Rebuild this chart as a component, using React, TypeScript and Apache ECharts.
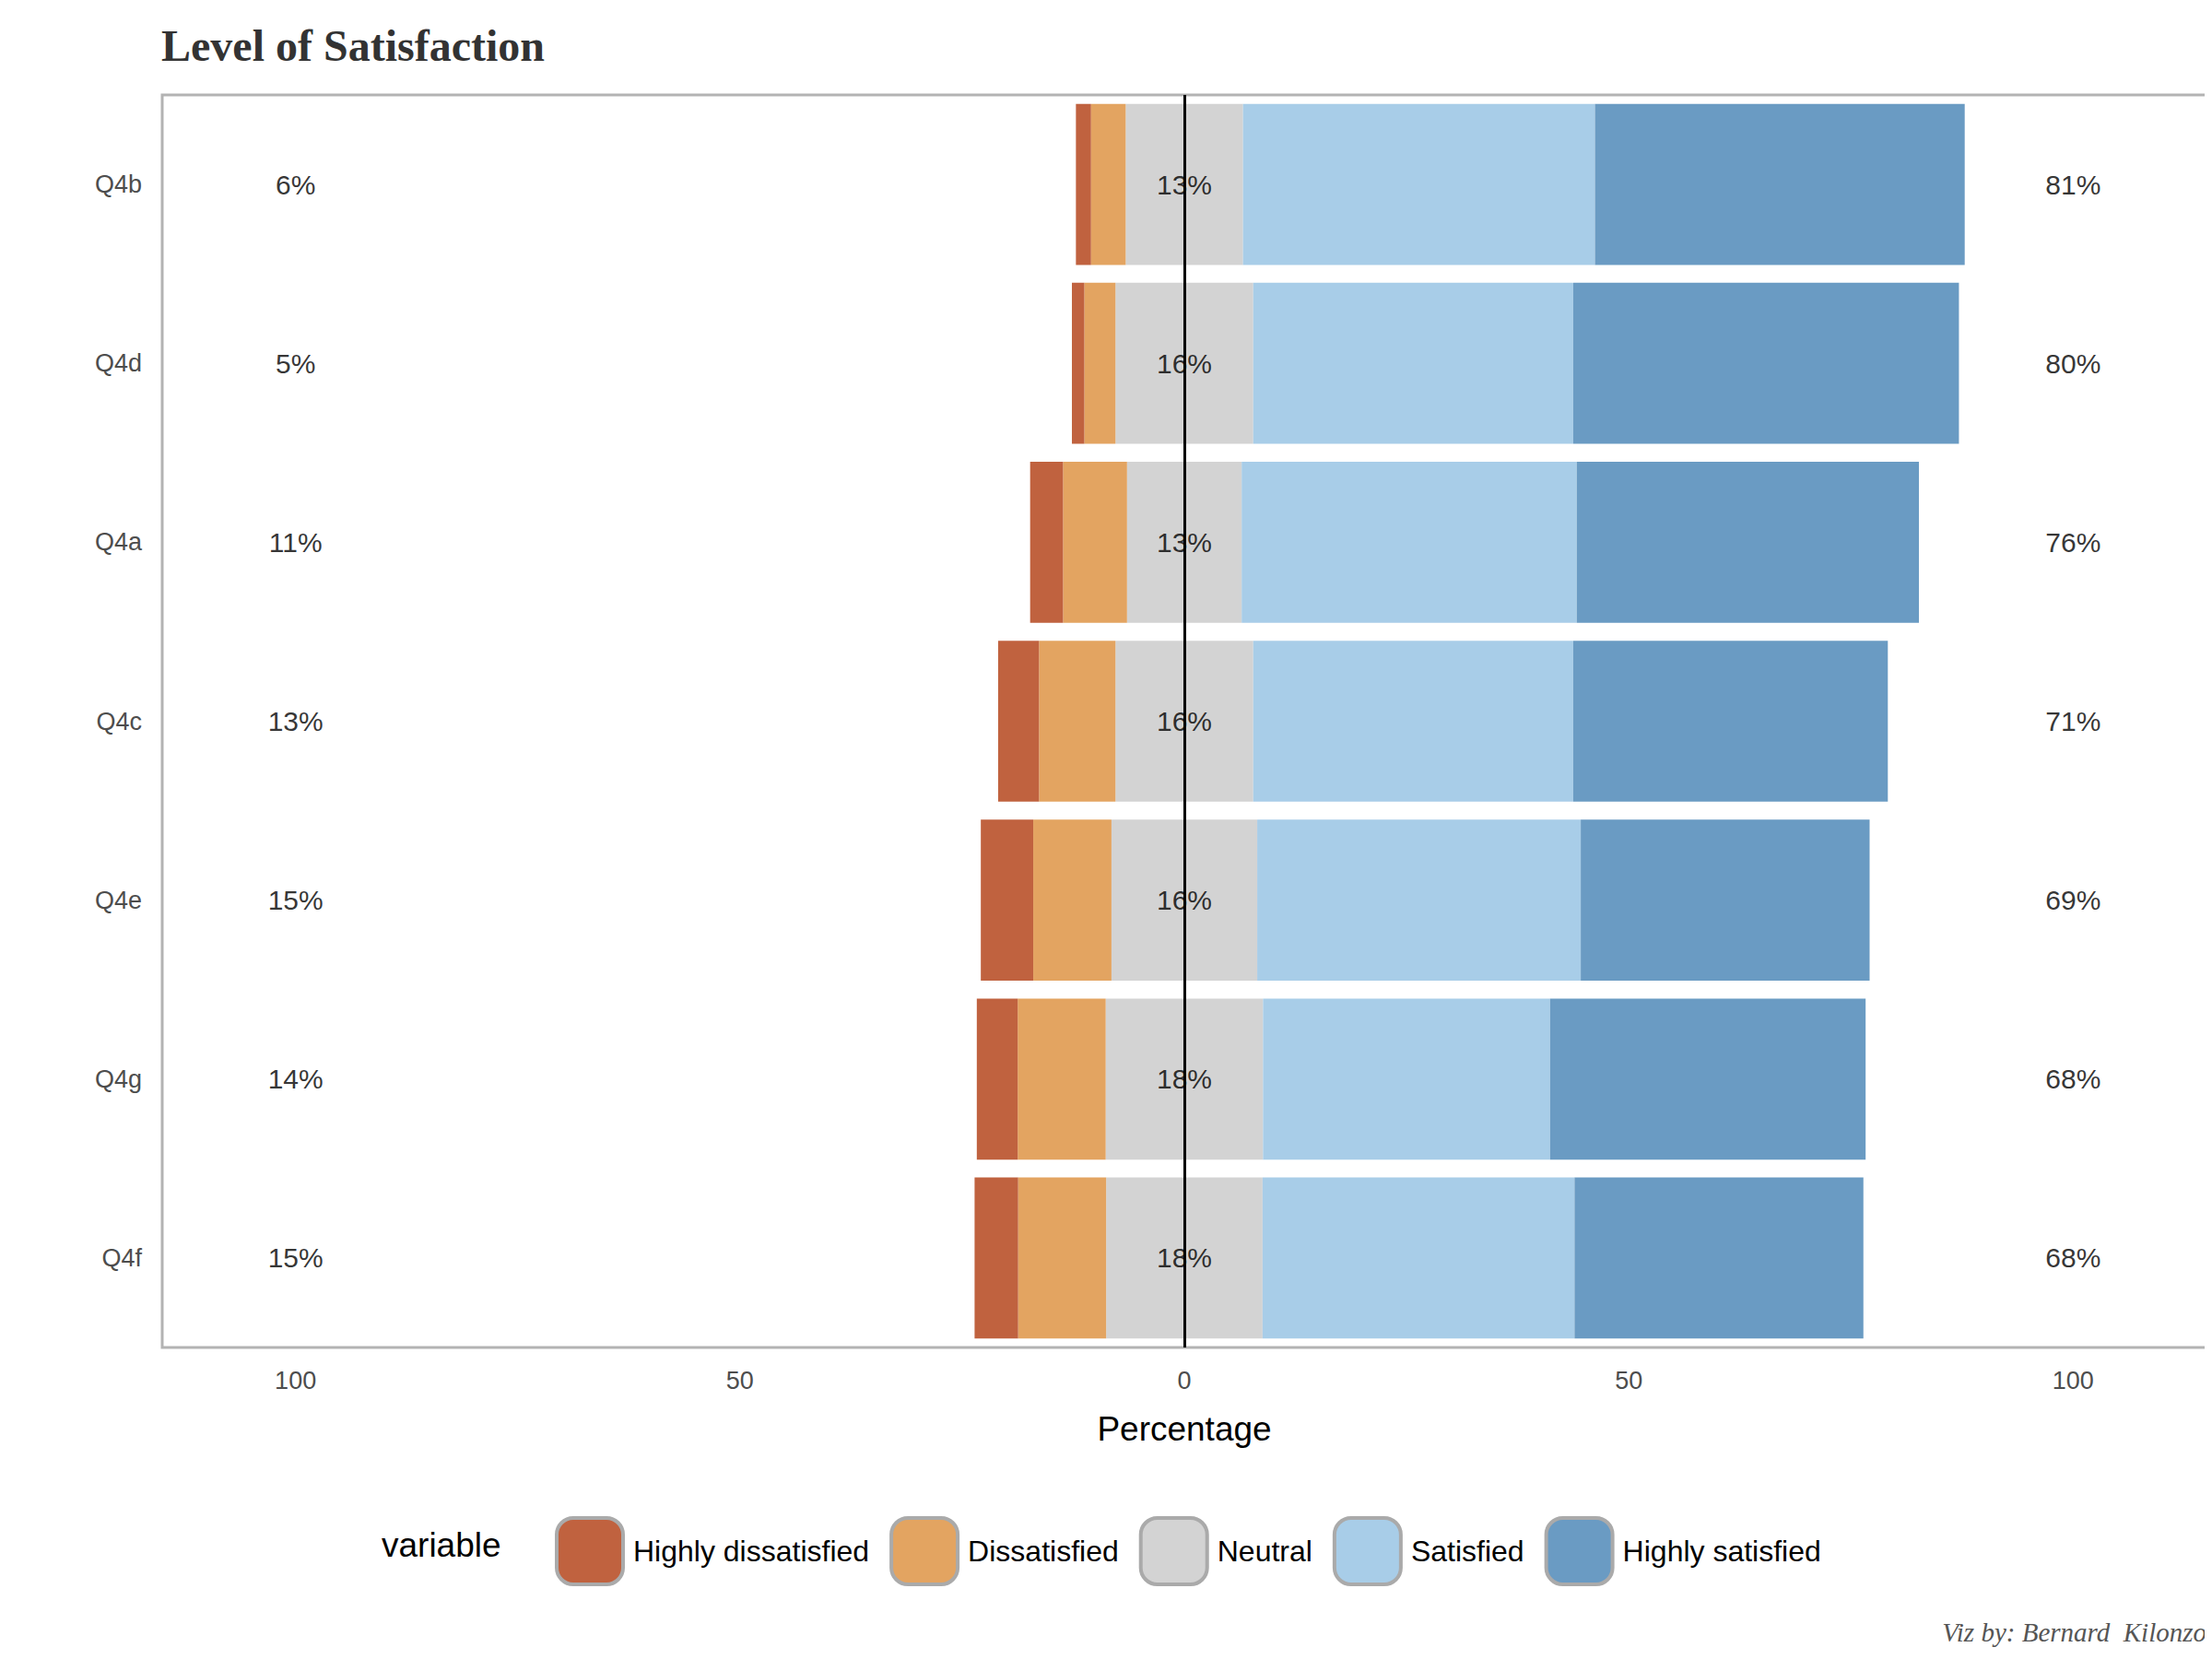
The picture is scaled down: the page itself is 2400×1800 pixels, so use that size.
import React, { useEffect, useRef } from 'react'
import * as echarts from 'echarts'

const questions = ['Q4b', 'Q4d', 'Q4a', 'Q4c', 'Q4e', 'Q4g', 'Q4f']
const highlyDissatisfied = [1.7, 1.4, 3.7, 4.6, 5.9, 4.6, 4.9]
const dissatisfied = [3.9, 3.5, 7.2, 8.6, 8.8, 9.9, 9.9]
const neutral = [13.2, 15.5, 12.9, 15.5, 16.4, 17.7, 17.6]
const satisfied = [39.6, 36.0, 37.7, 36.0, 36.4, 32.3, 35.1]
const highlySatisfied = [41.6, 43.4, 38.5, 35.4, 32.5, 35.5, 32.5]
const lowLabels = ['6%', '5%', '11%', '13%', '15%', '14%', '15%']
const midLabels = ['13%', '16%', '13%', '16%', '16%', '18%', '18%']
const highLabels = ['81%', '80%', '76%', '71%', '69%', '68%', '68%']
const legendNames = ['Highly dissatisfied', 'Dissatisfied', 'Neutral', 'Satisfied', 'Highly satisfied']
const colors = ['#C0623F', '#E3A461', '#D3D3D3', '#A8CDE8', '#6A9BC3']

const App = () => {
    const chartRef = useRef<HTMLDivElement>(null)

    useEffect(() => {
        const chart = echarts.init(chartRef.current!, null, { renderer: 'svg' })
        const bar = (name: string, data: number[], color: string, extra: any = {}) => ({
            name,
            type: 'bar',
            stack: 'all',
            barCategoryGap: '10%',
            data,
            itemStyle: { color },
            emphasis: { disabled: true },
            ...extra
        })
        const textSeries = (x: number, labels: string[]) => ({
            type: 'scatter',
            symbolSize: 0,
            silent: true,
            z: 10,
            data: questions.map((q, i) => ({ value: [x, q], label: { formatter: labels[i] } })),
            label: { show: true, position: 'inside', color: '#000', fontSize: 30, fontFamily: 'Arial, Liberation Sans' }
        })
        chart.setOption({
            animation: false,
            title: {
                text: 'Level of Satisfaction',
                left: 162, top: 12,
                textStyle: { fontFamily: 'Liberation Serif, serif', fontWeight: 'bold', fontSize: 48, color: '#333' }
            },
            grid: { left: 168, right: 14, top: 95, bottom: 346, show: true, borderColor: '#b3b3b3', borderWidth: 3 },
            xAxis: {
                type: 'value', min: -115, max: 115, interval: 5,
                name: 'Percentage', nameLocation: 'middle', nameGap: 70,
                nameTextStyle: { fontSize: 37, color: '#000', fontFamily: 'Arial, Liberation Sans' },
                axisLine: { show: false }, axisTick: { show: false }, splitLine: { show: false },
                axisLabel: {
                    fontSize: 27, color: '#4d4d4d', fontFamily: 'Arial, Liberation Sans', margin: 22,
                    formatter: (v: number) => (v % 50 === 0 && Math.abs(v) <= 100 ? String(Math.abs(v)) : '')
                }
            },
            yAxis: {
                type: 'category', data: questions, inverse: true,
                axisLine: { show: false }, axisTick: { show: false },
                axisLabel: { fontSize: 27, color: '#4d4d4d', fontFamily: 'Arial, Liberation Sans', margin: 22 }
            },
            legend: {
                data: legendNames, left: 589, top: 1632, itemWidth: 72, itemHeight: 72, itemGap: 22,
                textStyle: { fontSize: 32, color: '#000', fontFamily: 'Arial, Liberation Sans', padding: [0, 0, 0, 6] },
                itemStyle: { borderColor: '#aaaaaa', borderWidth: 4 }
            },
            graphic: [
                { type: 'text', left: 406, top: 1650, style: { text: 'variable', fontSize: 37, fill: '#000', fontFamily: 'Arial, Liberation Sans' } },
                { type: 'text', right: 14, top: 1748, style: { text: 'Viz by: Bernard  Kilonzo', fontSize: 29, fill: '#555', fontStyle: 'italic', fontFamily: 'Liberation Serif, serif' } }
            ],
            series: [
                bar('Neutral', neutral.map(v => -v / 2), colors[2]),
                bar('Dissatisfied', dissatisfied.map(v => -v), colors[1]),
                bar('Highly dissatisfied', highlyDissatisfied.map(v => -v), colors[0]),
                bar('Neutral', neutral.map(v => v / 2), colors[2], {
                    markLine: {
                        silent: true, symbol: 'none', label: { show: false },
                        lineStyle: { color: '#000', type: 'solid', width: 3 },
                        data: [{ xAxis: 0 }], z: 5
                    }
                }),
                bar('Satisfied', satisfied, colors[3]),
                bar('Highly satisfied', highlySatisfied, colors[4]),
                textSeries(-100, lowLabels),
                textSeries(0, midLabels),
                textSeries(100, highLabels)
            ]
        })
        return () => {
            chart.dispose()
        }
    }, [])

    return <div style={{ width: '2400px', height: '1800px' }} ref={chartRef}></div>
}
export default App
